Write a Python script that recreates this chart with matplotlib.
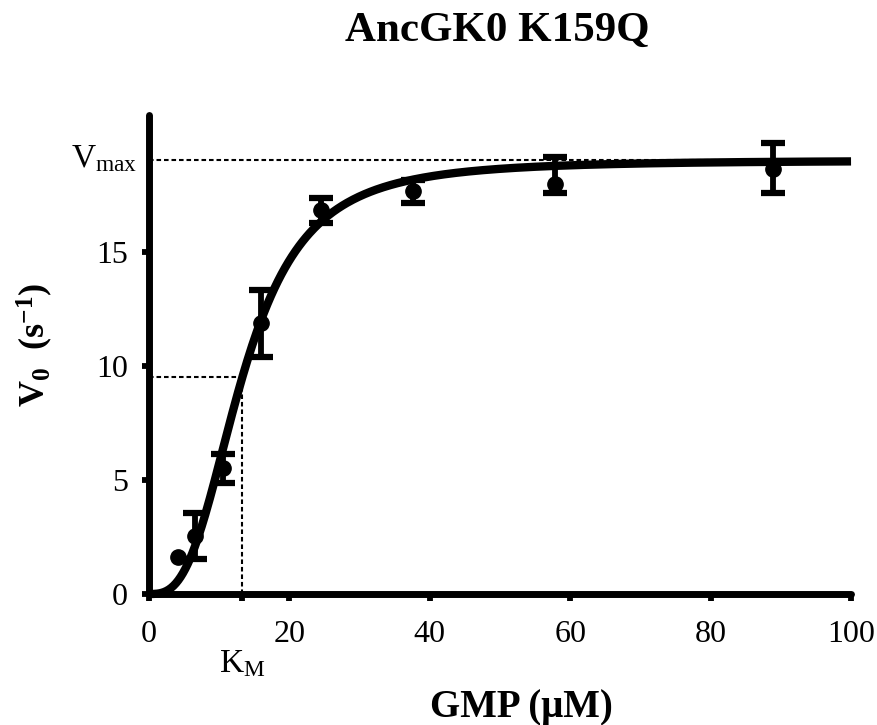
import numpy as np
import matplotlib
matplotlib.use("Agg")
import matplotlib.pyplot as plt

# --- data ------------------------------------------------------------------
gmp_uM = [4.2, 6.5, 10.5, 15.9, 24.5, 37.6, 57.8, 88.9]
v0 = [1.64, 2.55, 5.5, 11.85, 16.8, 17.65, 17.95, 18.6]
err_lo = [0.0, 1.0, 0.65, 1.45, 0.55, 0.5, 0.4, 1.05]
err_hi = [0.0, 1.0, 0.65, 1.45, 0.55, 0.5, 1.2, 1.15]

# fitted Hill parameters (as shown by the dashed guides)
VMAX = 19.0
KM = 13.3
HILL_N = 2.95

x_ticks = [0, 20, 40, 60, 80, 100]
y_ticks = [0, 5, 10, 15]
# ---------------------------------------------------------------------------

plt.rcParams["font.family"] = ["Liberation Serif", "DejaVu Serif"]
plt.rcParams["mathtext.fontset"] = "custom"
plt.rcParams["mathtext.rm"] = "Liberation Serif"
plt.rcParams["mathtext.it"] = "Liberation Serif:italic"
plt.rcParams["mathtext.bf"] = "Liberation Serif:bold"

fig = plt.figure(figsize=(8.77, 7.25), dpi=100)
ax = fig.add_axes([0.1699, 0.1807, 0.8005, 0.6612])

# fit curve
xs = np.linspace(0, 100, 600)
ys = VMAX * xs**HILL_N / (KM**HILL_N + xs**HILL_N)
ax.plot(xs, ys, color="black", lw=6.0, solid_capstyle="butt", zorder=3, clip_on=False)

# guides
dash = (0, (2.2, 1.4))
ax.plot([0, 100], [VMAX, VMAX], color="black", lw=1.5, ls=dash, zorder=1)
ax.plot([0, KM], [VMAX / 2, VMAX / 2], color="black", lw=1.5, ls=dash, zorder=1)
ax.plot([KM, KM], [0, VMAX / 2], color="black", lw=1.5, ls=dash, zorder=1)

# data: markers for all, error bars where there are any
x_arr = np.array(gmp_uM)
y_arr = np.array(v0)
lo = np.array(err_lo)
hi = np.array(err_hi)
has_err = (lo + hi) > 0
ax.plot(x_arr, y_arr, "o", color="black", markersize=11, zorder=4, clip_on=False)
ax.errorbar(x_arr[has_err], y_arr[has_err], yerr=[lo[has_err], hi[has_err]],
            fmt="none", ecolor="black", elinewidth=4.2, capsize=8.5,
            capthick=4.5, zorder=4, clip_on=False)

ax.set_xlim(0, 100)
ax.set_ylim(0, 21)
for s in ["top", "right"]:
    ax.spines[s].set_visible(False)
for s in ["left", "bottom"]:
    ax.spines[s].set_linewidth(5)
    ax.spines[s].set_capstyle("round")

ax.set_xticks(x_ticks + [KM])
ax.set_xticklabels([str(t) for t in x_ticks] + [""])
ax.set_yticks(y_ticks)
ax.tick_params(axis="both", direction="out", length=5, width=4.2, labelsize=23)
ax.tick_params(axis="x", pad=13.5)
ax.tick_params(axis="y", pad=10)

# K_M and V_max labels
ax.text(KM, -2.4, r"$\mathrm{K_M}$", ha="center", va="top", fontsize=24,
        clip_on=False)
ax.text(-1.7, VMAX + 0.05, r"$\mathrm{V_{max}}$", ha="right", va="center",
        fontsize=24, clip_on=False)

ax.set_xlabel("GMP (μM)", fontsize=28, fontweight="bold")
ax.xaxis.set_label_coords(0.53, -0.198)
ax.set_ylabel(r"$\mathbf{V_0\ \ (s^{-1})}$", fontsize=26)
ax.yaxis.set_label_coords(-0.134, 0.52)

fig.suptitle("AncGK0 K159Q", fontsize=31, fontweight="bold", x=0.567, y=0.983)

fig.savefig("out.png", dpi=100)
